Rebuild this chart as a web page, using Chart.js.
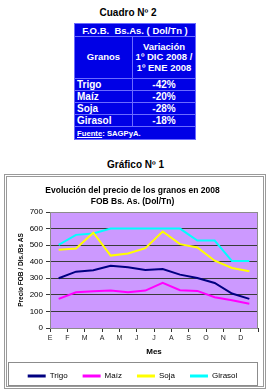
<!DOCTYPE html>
<html>
<head>
<meta charset="utf-8">
<script src="https://cdn.jsdelivr.net/npm/chart.js@4.4.0/dist/chart.umd.min.js"></script>
<style>
body { margin:0; width:271px; height:390px; background:#fff; position:relative; overflow:hidden;
       font-family:"Liberation Sans", Arial, sans-serif; }
.cap { position:absolute; text-align:center; font-weight:bold; font-size:10px; line-height:14px; color:#000; }
#cuadro { left:0; width:256px; top:6px; }
#grafico { left:0; width:271px; top:158px; }
table.fob { position:absolute; left:74px; top:23px; width:122px; border-collapse:collapse;
            background:#0000e6; color:#fff; font-weight:bold; font-size:10px; }
table.fob td { border:1px solid #6b6bff; padding:0 2px; line-height:11px; }
table.fob .head td { height:12px; text-align:center; font-size:9.5px; }
table.fob .sub td { height:41px; text-align:center; font-size:9.5px; line-height:10.5px; }
table.fob .row td { height:11px; }
table.fob .row td.v { text-align:center; }
table.fob .src td { height:12px; font-size:7.7px; }
#box { position:absolute; left:4px; top:174px; width:256px; height:209px; border:3px double #9a9a9a; }
canvas { display:block; }
</style>
</head>
<body>
<div class="cap" id="cuadro">Cuadro Nº 2</div>
<table class="fob">
  <tr class="head"><td colspan="2">F.O.B.&nbsp; Bs.As. ( Dol/Tn )</td></tr>
  <tr class="sub"><td style="width:53px">Granos</td><td>Variación<br>1º DIC 2008 /<br>1º ENE 2008</td></tr>
  <tr class="row"><td>Trigo</td><td class="v">-42%</td></tr>
  <tr class="row"><td>Maíz</td><td class="v">-20%</td></tr>
  <tr class="row"><td>Soja</td><td class="v">-28%</td></tr>
  <tr class="row"><td>Girasol</td><td class="v">-18%</td></tr>
  <tr class="src"><td colspan="2"><u>Fuente</u>: SAGPyA.</td></tr>
</table>
<div class="cap" id="grafico">Gráfico Nº 1</div>
<div id="box"><canvas id="chart" width="256" height="209"></canvas></div>

<script>
//---------------------------------------------
// DATA
//---------------------------------------------
const months = ["E", "F", "M", "A", "M", "J", "J", "A", "S", "O", "N", "D"];
const trigo   = [300, 340, 348, 376, 366, 350, 356, 322, 302, 272, 208, 176];
const maiz    = [176, 216, 222, 226, 216, 226, 272, 228, 224, 186, 168, 146];
const soja    = [472, 480, 575, 437, 450, 482, 582, 506, 486, 406, 362, 342];
const girasol = [502, 562, 570, 600, 600, 600, 600, 600, 528, 528, 404, 404];
const seriesNames  = ["Trigo", "Maíz", "Soja", "Girasol"];
const seriesColors = ["#000080", "#ff00ff", "#ffff00", "#00ffff"];
const yMin = 0, yMax = 700, yStep = 100;

const FONT = "'Liberation Sans', Arial, sans-serif";
const LEGEND_PAD = 15;

//---------------------------------------------
// PLOT BACKGROUND, BORDER AND LEGEND FRAME
//---------------------------------------------
const excelLook = {
    id: "excelLook",
    beforeDraw(chart) {
        const { ctx, chartArea: a } = chart;
        ctx.save();
        ctx.fillStyle = "#cc99ff";
        ctx.fillRect(a.left, a.top, a.width, a.height);
        ctx.restore();
    },
    beforeDatasetsDraw(chart) {
        const { ctx, chartArea: a } = chart;
        ctx.save();
        ctx.strokeStyle = "#8c8c8c";
        ctx.lineWidth = 1;
        ctx.strokeRect(Math.round(a.left) + 0.5, Math.round(a.top) + 0.5,
                       Math.round(a.width) - 1, Math.round(a.height));
        ctx.restore();
    },
    afterDraw(chart) {
        const { ctx } = chart;
        const l = chart.legend;
        // row of legend items sits at top + padding + half the font size
        const mid = l.top + LEGEND_PAD + 4;
        ctx.save();
        ctx.strokeStyle = "#8c8c8c";
        ctx.lineWidth = 1;
        ctx.strokeRect(1.5, Math.round(mid - 14) + 0.5, 249, 23);
        ctx.restore();
    }
};

//---------------------------------------------
// CHART
//---------------------------------------------
const series = [trigo, maiz, soja, girasol];
const datasets = series.map((data, i) => ({
    label: seriesNames[i],
    data,
    borderColor: seriesColors[i],
    backgroundColor: seriesColors[i],
    borderWidth: 2,
    pointRadius: 0,
    tension: 0
}));

new Chart(document.getElementById("chart").getContext("2d"), {
    type: "line",
    data: { labels: months, datasets },
    plugins: [excelLook],
    options: {
        responsive: false,
        animation: false,
        layout: { padding: { left: 0, right: 5, top: 0, bottom: -4 } },
        plugins: {
            title: {
                display: true,
                text: ["Evolución del precio de los granos en 2008", "FOB Bs. As. (Dol/Tn)"],
                color: "#000",
                font: { family: FONT, size: 8.5, weight: "bold", lineHeight: 1.3 },
                padding: { top: 8.5, bottom: 4.4 }
            },
            legend: {
                position: "bottom",
                labels: {
                    color: "#000",
                    font: { family: FONT, size: 8 },
                    boxWidth: 18,
                    boxHeight: 3,
                    padding: LEGEND_PAD,
                    generateLabels(chart) {
                        const items = Chart.defaults.plugins.legend.labels.generateLabels(chart);
                        items.forEach(it => { it.lineWidth = 0; });
                        return items;
                    }
                }
            },
            tooltip: { enabled: false }
        },
        scales: {
            x: {
                offset: true,
                grid: { offset: true, drawOnChartArea: false, drawTicks: true, tickLength: 4, color: "#333" },
                border: { display: false },
                ticks: {
                    color: "#222",
                    font: { family: FONT, size: 7 },
                    padding: 2,
                    maxRotation: 0,
                    autoSkip: false,
                    labelOffset: -8.67
                },
                title: {
                    display: true,
                    text: "Mes",
                    color: "#000",
                    font: { family: FONT, size: 8, weight: "bold" },
                    padding: { top: 0, bottom: 0 }
                },
                afterFit(scale) { scale.height = 29; }
            },
            y: {
                min: yMin,
                max: yMax,
                grid: { color: "#3a3a3a", lineWidth: 1, drawTicks: true, tickLength: 4 },
                border: { display: false },
                ticks: {
                    stepSize: yStep,
                    color: "#000",
                    font: { family: FONT, size: 8 },
                    padding: 3
                },
                title: {
                    display: true,
                    text: "Precio FOB / Dls./Bs AS",
                    color: "#000",
                    font: { family: FONT, size: 6.5, weight: "bold" },
                    padding: { top: 10, bottom: 0 }
                },
                afterFit(scale) { scale.width = 43; }
            }
        }
    }
});
</script>
</body>
</html>
